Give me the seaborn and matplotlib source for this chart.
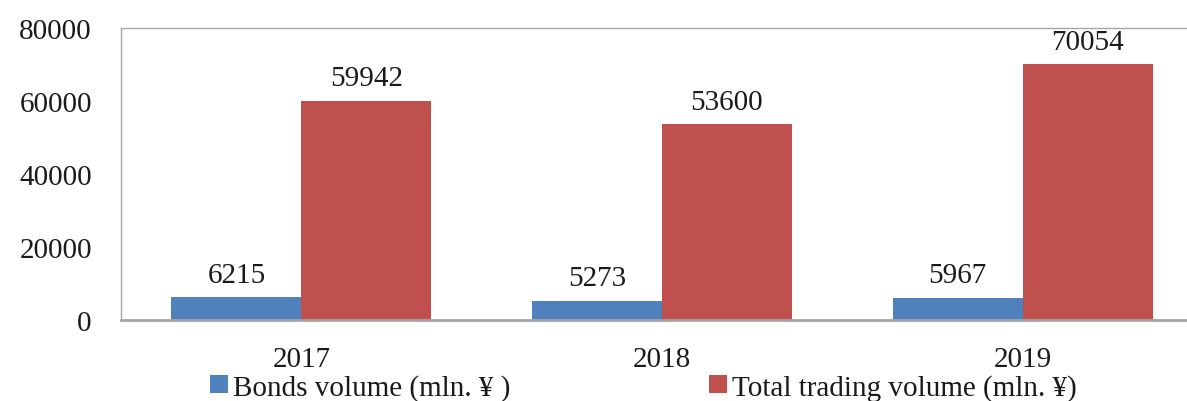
import matplotlib
matplotlib.use("Agg")
import matplotlib.pyplot as plt
import seaborn as sns
import pandas as pd

years = ["2017", "2018", "2019"]
bonds = [6215, 5273, 5967]
total = [59942, 53600, 70054]
series_names = ["Bonds volume (mln. ¥ )", "Total trading volume (mln. ¥)"]
yticks = [0, 20000, 40000, 60000, 80000]

df = pd.DataFrame({
    "year": years * 2,
    "value": bonds + total,
    "series": [series_names[0]] * 3 + [series_names[1]] * 3,
})

sns.set_theme(style="white")
plt.rcParams["font.family"] = ["Liberation Serif", "DejaVu Serif"]

FS = 21

fig = plt.figure(figsize=(11.87, 4.02), dpi=100)
ax = fig.add_axes([121 / 1187, 1 - 321 / 402, (1203 - 121) / 1187, (321 - 29) / 402])

sns.barplot(data=df, x="year", y="value", hue="series",
            palette=["#4F81BD", "#C0504D"], width=0.72, saturation=1,
            ax=ax, edgecolor="none")

for cont in ax.containers:
    ax.bar_label(cont, labels=[f"{int(v)}" for v in cont.datavalues],
                 padding=7, fontsize=FS, color="#1a1a1a")

ax.set_ylim(0, 80000)
ax.set_yticks(yticks)
ax.set_yticklabels([str(t) for t in yticks], fontsize=FS, color="#1a1a1a")
ax.set_xlim(-0.5, 2.5)
ax.tick_params(axis="x", labelsize=FS, length=0, pad=19, labelcolor="#1a1a1a")
ax.tick_params(axis="y", length=0, pad=21)
ax.set_xlabel("")
ax.set_ylabel("")
for s in ["left", "top", "bottom"]:
    ax.spines[s].set_color("#A6A6A6")
    ax.spines[s].set_linewidth(1)
ax.spines["right"].set_visible(False)
ax.spines["bottom"].set_linewidth(2)

handles, labels = ax.get_legend_handles_labels()
ax.legend(handles, labels, loc="upper left", bbox_to_anchor=(210 / 1187, 0.068),
          bbox_transform=fig.transFigure, ncol=2, frameon=False, fontsize=FS,
          handlelength=0.6, handleheight=0.6, handletextpad=0.2,
          columnspacing=6.8, borderaxespad=0, borderpad=0, labelcolor="#1a1a1a")

fig.savefig("out.png", dpi=100)
